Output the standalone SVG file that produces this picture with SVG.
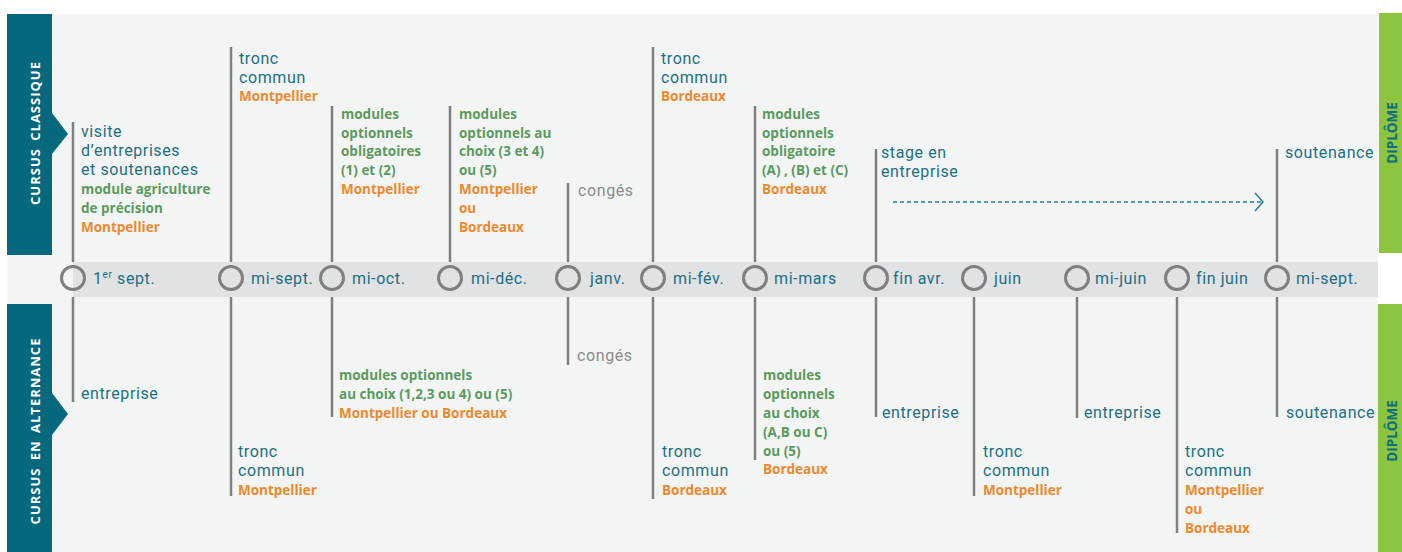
<svg xmlns="http://www.w3.org/2000/svg" width="1402" height="552" viewBox="0 0 1402 552">
<defs>
<style>
.t{font-family:Roboto,"Open Sans","Liberation Sans",sans-serif;font-size:16px;letter-spacing:0.6px;fill:#1d6f84;}
.g{font-family:"Open Sans","Liberation Sans",sans-serif;font-size:13.5px;font-weight:700;fill:#5b9a5f;}
.o{font-family:"Open Sans","Liberation Sans",sans-serif;font-size:13.5px;font-weight:700;fill:#f0882b;}
.c{font-family:Roboto,"Open Sans","Liberation Sans",sans-serif;font-size:16px;letter-spacing:0.6px;fill:#8b8b8b;}
.d{font-family:Roboto,"Open Sans","Liberation Sans",sans-serif;font-size:16px;letter-spacing:0.6px;fill:#1d6f84;}
.side{font-family:"Open Sans","Liberation Sans",sans-serif;font-size:13px;font-weight:700;fill:#ffffff;letter-spacing:1px;}
.dip{font-family:"Open Sans","Liberation Sans",sans-serif;font-size:13.5px;font-weight:700;fill:#0e6d7e;}
.vl{stroke:#7f7f7f;stroke-width:2.5;fill:none;}
.dot{stroke:#7f7f7f;stroke-width:3;fill:none;}
</style>
<marker id="chev" viewBox="0 0 10 20" refX="9" refY="10" markerWidth="10" markerHeight="20" markerUnits="userSpaceOnUse" orient="auto">
<path d="M1,1 L9,10 L1,19" fill="none" stroke="#2a7d92" stroke-width="1.5"/>
</marker>
</defs>
<rect x="0" y="0" width="1402" height="552" fill="#ffffff"/>
<rect x="7" y="14" width="1371" height="538" fill="#f3f5f4"/>
<rect x="73" y="262" width="1305" height="35" fill="#e1e2e4"/>

<g id="side-classique">
<rect x="7" y="14" width="45" height="241" fill="#06687c"/>
<polygon points="52,113 68,134 52,154" fill="#06687c"/>
<text class="side" transform="translate(40,133) rotate(-90)" text-anchor="middle" word-spacing="3">CURSUS CLASSIQUE</text>
</g>
<g id="side-alternance">
<rect x="7" y="304" width="45" height="248" fill="#06687c"/>
<polygon points="52,393 68,414 52,435" fill="#06687c"/>
<text class="side" transform="translate(40,431) rotate(-90)" text-anchor="middle" word-spacing="3">CURSUS EN ALTERNANCE</text>
</g>
<g id="diplome-top">
<rect x="1379" y="13" width="23" height="240" fill="#8cc53f"/>
<text class="dip" transform="translate(1397,133) rotate(-90)" text-anchor="middle">DIPLÔME</text>
</g>
<g id="diplome-bottom">
<rect x="1378" y="304" width="24" height="248" fill="#8cc53f"/>
<text class="dip" transform="translate(1397,431) rotate(-90)" text-anchor="middle">DIPLÔME</text>
</g>

<g id="connectors">
<line class="vl" x1="73" y1="122" x2="73" y2="262"/>
<line class="vl" x1="231" y1="47" x2="231" y2="262"/>
<line class="vl" x1="332" y1="106" x2="332" y2="262"/>
<line class="vl" x1="450" y1="106" x2="450" y2="262"/>
<line class="vl" x1="568" y1="183" x2="568" y2="262"/>
<line class="vl" x1="653" y1="47" x2="653" y2="262"/>
<line class="vl" x1="755" y1="106" x2="755" y2="262"/>
<line class="vl" x1="876" y1="149" x2="876" y2="262"/>
<line class="vl" x1="1277" y1="149" x2="1277" y2="262"/>
<line class="vl" x1="73" y1="297" x2="73" y2="402"/>
<line class="vl" x1="231" y1="297" x2="231" y2="496"/>
<line class="vl" x1="332" y1="297" x2="332" y2="417"/>
<line class="vl" x1="568" y1="297" x2="568" y2="365"/>
<line class="vl" x1="653" y1="297" x2="653" y2="499"/>
<line class="vl" x1="755" y1="297" x2="755" y2="460"/>
<line class="vl" x1="876" y1="297" x2="876" y2="417"/>
<line class="vl" x1="974" y1="297" x2="974" y2="496"/>
<line class="vl" x1="1077" y1="297" x2="1077" y2="418"/>
<line class="vl" x1="1177" y1="297" x2="1177" y2="533"/>
<line class="vl" x1="1277" y1="297" x2="1277" y2="417"/>
<line x1="893" y1="202" x2="1263" y2="202" stroke="#2a7d92" stroke-width="1.3" stroke-dasharray="4,3" marker-end="url(#chev)"/>
</g>

<g id="n-1sept">
<circle class="dot" cx="73" cy="278" r="11.5"/>
<text class="d" x="93" y="284">1<tspan font-size="10" dy="-6">er</tspan><tspan dy="6"> sept.</tspan></text>
<text class="t" x="81" y="137">visite</text>
<text class="t" x="81" y="156">d’entreprises</text>
<text class="t" x="81" y="175">et soutenances</text>
<text class="g" x="81" y="194">module agriculture</text>
<text class="g" x="81" y="213">de précision</text>
<text class="o" x="81" y="232">Montpellier</text>
<text class="t" x="81" y="399">entreprise</text>
</g>
<g id="n-misept">
<circle class="dot" cx="231" cy="278" r="11.5"/>
<text class="d" x="251" y="284">mi-sept.</text>
<text class="t" x="239" y="64">tronc</text>
<text class="t" x="239" y="83">commun</text>
<text class="o" x="239" y="101">Montpellier</text>
<text class="t" x="238" y="457">tronc</text>
<text class="t" x="238" y="476">commun</text>
<text class="o" x="238" y="495">Montpellier</text>
</g>
<g id="n-mioct">
<circle class="dot" cx="332" cy="278" r="11.5"/>
<text class="d" x="352" y="284">mi-oct.</text>
<text class="g" x="341" y="119">modules</text>
<text class="g" x="341" y="138">optionnels</text>
<text class="g" x="341" y="156">obligatoires</text>
<text class="g" x="341" y="175">(1) et (2)</text>
<text class="o" x="341" y="194">Montpellier</text>
<text class="g" x="339" y="380">modules optionnels</text>
<text class="g" x="339" y="399">au choix (1,2,3 ou 4) ou (5)</text>
<text class="o" x="339" y="418">Montpellier ou Bordeaux</text>
</g>
<g id="n-midec">
<circle class="dot" cx="450" cy="278" r="11.5"/>
<text class="d" x="471" y="284">mi-déc.</text>
<text class="g" x="459" y="119">modules</text>
<text class="g" x="459" y="138">optionnels au</text>
<text class="g" x="459" y="156">choix (3 et 4)</text>
<text class="g" x="459" y="175">ou (5)</text>
<text class="o" x="459" y="194">Montpellier</text>
<text class="o" x="459" y="213">ou</text>
<text class="o" x="459" y="232">Bordeaux</text>
</g>
<g id="n-janv">
<circle class="dot" cx="568" cy="278" r="11.5"/>
<text class="d" x="590" y="284">janv.</text>
<text class="c" x="578" y="196">congés</text>
<text class="c" x="577" y="361">congés</text>
</g>
<g id="n-mifev">
<circle class="dot" cx="653" cy="278" r="11.5"/>
<text class="d" x="673" y="284">mi-fév.</text>
<text class="t" x="661" y="64">tronc</text>
<text class="t" x="661" y="83">commun</text>
<text class="o" x="661" y="101">Bordeaux</text>
<text class="t" x="662" y="457">tronc</text>
<text class="t" x="662" y="476">commun</text>
<text class="o" x="662" y="495">Bordeaux</text>
</g>
<g id="n-mimars">
<circle class="dot" cx="755" cy="278" r="11.5"/>
<text class="d" x="774" y="284">mi-mars</text>
<text class="g" x="762" y="119">modules</text>
<text class="g" x="762" y="138">optionnels</text>
<text class="g" x="762" y="156">obligatoire</text>
<text class="g" x="762" y="175">(A) , (B) et (C)</text>
<text class="o" x="762" y="194">Bordeaux</text>
<text class="g" x="763" y="380">modules</text>
<text class="g" x="763" y="399">optionnels</text>
<text class="g" x="763" y="418">au choix</text>
<text class="g" x="763" y="437">(A,B ou C)</text>
<text class="g" x="763" y="456">ou (5)</text>
<text class="o" x="763" y="474">Bordeaux</text>
</g>
<g id="n-finavr">
<circle class="dot" cx="876" cy="278" r="11.5"/>
<text class="d" x="893" y="284">fin avr.</text>
<text class="t" x="881" y="158">stage en</text>
<text class="t" x="881" y="177">entreprise</text>
<text class="t" x="882" y="418">entreprise</text>
</g>
<g id="n-juin">
<circle class="dot" cx="974" cy="278" r="11.5"/>
<text class="d" x="994" y="284">juin</text>
<text class="t" x="983" y="457">tronc</text>
<text class="t" x="983" y="476">commun</text>
<text class="o" x="983" y="495">Montpellier</text>
</g>
<g id="n-mijuin">
<circle class="dot" cx="1077" cy="278" r="11.5"/>
<text class="d" x="1095" y="284">mi-juin</text>
<text class="t" x="1084" y="418">entreprise</text>
</g>
<g id="n-finjuin">
<circle class="dot" cx="1177" cy="278" r="11.5"/>
<text class="d" x="1196" y="284">fin juin</text>
<text class="t" x="1185" y="457">tronc</text>
<text class="t" x="1185" y="476">commun</text>
<text class="o" x="1185" y="495">Montpellier</text>
<text class="o" x="1185" y="514">ou</text>
<text class="o" x="1185" y="533">Bordeaux</text>
</g>
<g id="n-misept2">
<circle class="dot" cx="1277" cy="278" r="11.5"/>
<text class="d" x="1296" y="284">mi-sept.</text>
<text class="t" x="1285" y="158">soutenance</text>
<text class="t" x="1286" y="418">soutenance</text>
</g>
</svg>
